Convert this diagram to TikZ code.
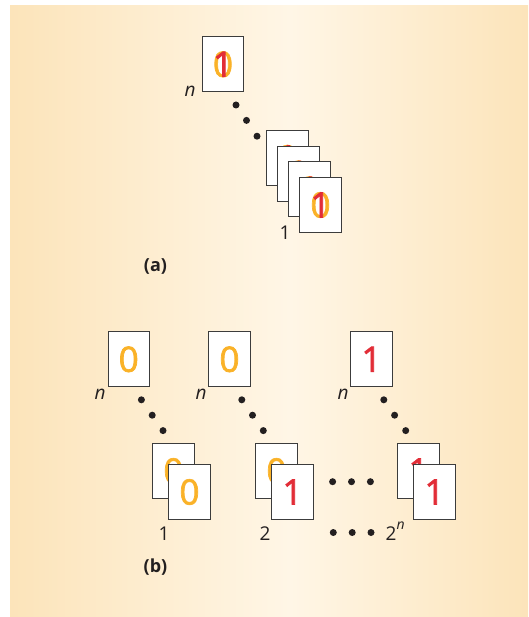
\documentclass[tikz,border=0pt]{standalone}
\usepackage{fontspec}
\setmainfont{Open Sans}
\newfontfamily\digitfont[FakeBold=2]{Open Sans}
\definecolor{bgedge}{RGB}{252,228,186}
\definecolor{bglight}{RGB}{255,246,230}
\definecolor{zerocol}{RGB}{250,178,40}
\definecolor{onecol}{RGB}{226,45,55}
\definecolor{edgecol}{RGB}{60,60,60}
\definecolor{inkcol}{RGB}{35,31,32}
\tikzset{
  card/.style={draw=edgecol, line width=0.9pt, fill=white, rectangle,
    minimum width=41.5pt, minimum height=55pt, inner sep=0pt,
    font=\digitfont\fontsize{35}{35}\selectfont},
  zerocard/.style={card, text=zerocol},
  onecard/.style={card, text=onecol},
  bothcard/.style={card, text=zerocol,
    label={[text=onecol, inner sep=0pt, font=\digitfont\fontsize{35}{35}\selectfont]center:1}},
  dot/.style={circle, fill=inkcol, inner sep=0pt, minimum size=7pt},
  nlabel/.style={text=inkcol, font=\fontsize{19}{19}\selectfont\itshape, inner sep=0pt},
  idxlabel/.style={text=inkcol, font=\fontsize{19}{19}\selectfont, inner sep=0pt},
  partlabel/.style={text=inkcol, font=\fontsize{18}{18}\selectfont\bfseries, inner sep=0pt}
}
\begin{document}
\begin{tikzpicture}[x=1pt, y=-1pt]
\useasboundingbox (0,0) rectangle (528,617);
% background panel
\shade[left color=bgedge, right color=bglight] (10,6) rectangle (290,617);
\shade[left color=bglight, right color=bgedge] (290,6) rectangle (528,617);

% ---- (a) a single register holding superposed 0 and 1 ----
\node[bothcard] (atop) at (223,64.3) {0};
\node[nlabel] (an) at (190,91.5) {n};
\node[dot] (ad1) at (236,105) {};
\node[dot] (ad2) at (246.5,120.4) {};
\node[dot] (ad3) at (257,136.2) {};
\node[bothcard] (as1) at (287.5,157.9) {0};
\node[bothcard] (as2) at (298.5,173.5) {0};
\node[bothcard] (as3) at (309.5,189.3) {0};
\node[bothcard] (as4) at (320.5,205) {0};
\node[idxlabel] (a1) at (285,233) {1};
\node[partlabel] (alab) at (155.5,266) {(a)};

% ---- (b) 2^n classical registers ----
% register 1
\node[zerocard] (b1top) at (128.7,359.3) {0};
\node[nlabel] (b1n) at (100,394.3) {n};
\node[dot] (b1d1) at (141.4,399.8) {};
\node[dot] (b1d2) at (152.2,415.2) {};
\node[dot] (b1d3) at (163,430.6) {};
\node[zerocard] (b1back) at (173.5,471) {0};
\node[zerocard] (b1front) at (189.5,492) {0};
\node[idxlabel] (b1idx) at (164,533.3) {1};
% register 2
\node[zerocard] (b2top) at (229.5,359.3) {0};
\node[nlabel] (b2n) at (201,394.3) {n};
\node[dot] (b2d1) at (241.8,399.8) {};
\node[dot] (b2d2) at (252.5,415.2) {};
\node[dot] (b2d3) at (263.3,430.6) {};
\node[zerocard] (b2back) at (276.5,471) {0};
\node[onecard] (b2front) at (292.5,492) {1};
\node[idxlabel] (b2idx) at (265,533.3) {2};
% register 2^n
\node[onecard] (b3top) at (371.5,359.3) {1};
\node[nlabel] (b3n) at (343,394.3) {n};
\node[dot] (b3d1) at (383.8,399.8) {};
\node[dot] (b3d2) at (394.6,415.2) {};
\node[dot] (b3d3) at (405.7,430.6) {};
\node[onecard] (b3back) at (418.5,471) {1};
\node[onecard] (b3front) at (434.5,492) {1};
\node[idxlabel, anchor=base west] (b3idx) at (385.5,540) {2\raisebox{0.55em}{\fontsize{14}{14}\selectfont\itshape n}};
% ellipses between registers
\node[dot] (h1) at (332.6,481.7) {};
\node[dot] (h2) at (351.5,481.7) {};
\node[dot] (h3) at (370.4,481.7) {};
\node[dot] (l1) at (333.3,532.5) {};
\node[dot] (l2) at (352.2,532.5) {};
\node[dot] (l3) at (371,532.5) {};
\node[partlabel] (blab) at (155.5,567.5) {(b)};
\end{tikzpicture}
\end{document}
